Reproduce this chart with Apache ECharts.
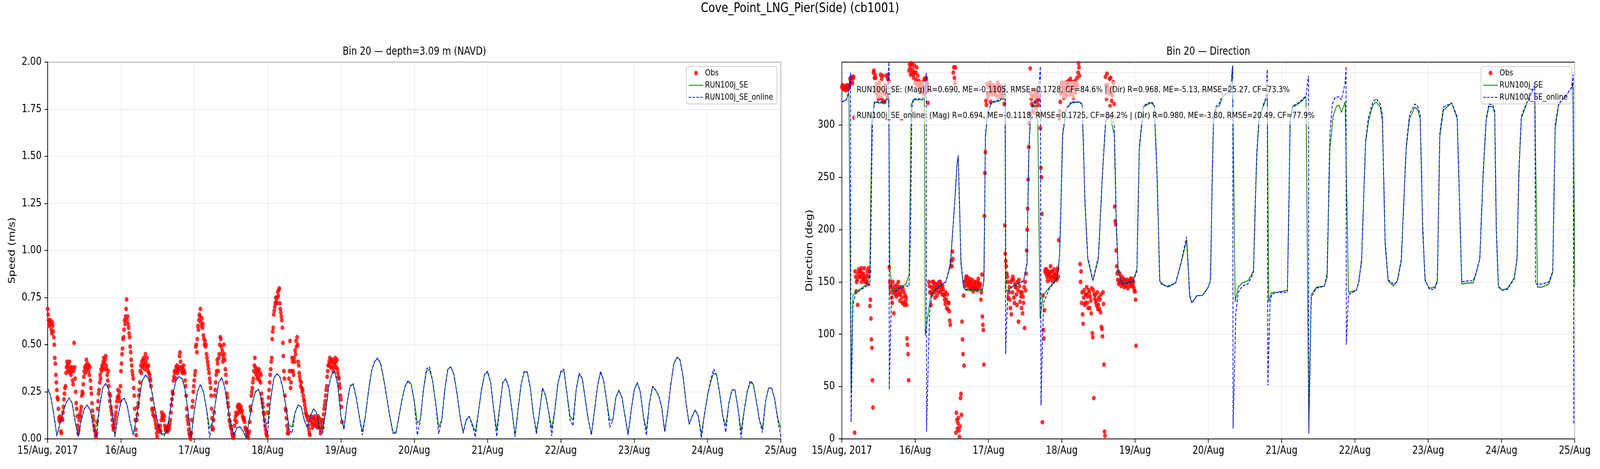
<!DOCTYPE html>
<html>
<head>
<meta charset="utf-8">
<script src="https://cdn.jsdelivr.net/npm/echarts@6.0.0/dist/echarts.min.js"></script>
<style>
  html, body { margin: 0; padding: 0; background: #fff; overflow: hidden; }
  #chart { width: 5000px; height: 1200px; transform-origin: 0 0; }
</style>
</head>
<body>
<div id="chart"></div>
<script>
// x axis: hours since 15/Aug/2017 00:00, one label per day
const dayLabels = ['15/Aug, 2017', '16/Aug', '17/Aug', '18/Aug', '19/Aug', '20/Aug',
                   '21/Aug', '22/Aug', '23/Aug', '24/Aug', '25/Aug'];
const dirTicks = [0, 50, 100, 150, 200, 250, 300, 350];

// model speed (m/s), hourly from hour 0 to 240
const speedSE = [
  0.268,0.226,0.13,0.02,0.08,0.14,0.19,0.218,0.19,0.09,0.015,0.10,
  0.16,0.18,0.15,0.07,0.065,0.17,0.27,0.295,0.26,0.15,0.015,0.12,
  0.20,0.216,0.18,0.09,0.025,0.10,0.22,0.31,0.34,0.32,0.26,0.17,
  0.09,0.03,0.025,0.04,0.14,0.24,0.31,0.33,0.32,0.26,0.14,0.015,
  0.15,0.25,0.288,0.25,0.16,0.055,0.09,0.20,0.30,0.326,0.27,0.17,
  0.07,0.026,0.06,0.064,0.04,0.005,0.10,0.19,0.25,0.264,0.21,0.09,
  0.08,0.21,0.32,0.346,0.33,0.27,0.17,0.07,0.065,0.14,0.18,0.17,
  0.10,0.06,0.12,0.16,0.14,0.06,0.057,0.14,0.28,0.345,0.355,0.28,
  0.12,0.055,0.19,0.28,0.29,0.22,0.12,0.04,0.12,0.25,0.36,0.41,
  0.427,0.40,0.318,0.22,0.12,0.04,0.03,0.12,0.21,0.28,0.306,0.29,
  0.20,0.085,0.10,0.26,0.36,0.368,0.31,0.19,0.063,0.10,0.26,0.37,
  0.383,0.34,0.24,0.12,0.034,0.10,0.12,0.08,0.04,0.14,0.26,0.34,
  0.354,0.30,0.16,0.048,0.17,0.30,0.318,0.27,0.15,0.02,0.16,0.29,
  0.355,0.355,0.27,0.13,0.04,0.14,0.27,0.23,0.143,0.055,0.15,0.29,
  0.355,0.362,0.24,0.12,0.10,0.26,0.344,0.32,0.21,0.10,0.026,0.15,
  0.28,0.354,0.31,0.20,0.10,0.10,0.22,0.256,0.22,0.12,0.026,0.15,
  0.26,0.296,0.25,0.12,0.048,0.19,0.278,0.26,0.23,0.17,0.04,0.15,
  0.29,0.40,0.434,0.42,0.33,0.19,0.077,0.12,0.154,0.12,0.026,0.13,
  0.23,0.30,0.35,0.34,0.24,0.12,0.07,0.19,0.26,0.26,0.16,0.04,
  0.15,0.25,0.30,0.29,0.20,0.10,0.055,0.20,0.27,0.27,0.21,0.11,
  0.055
];
const speedOnline = [
  0.268,0.226,0.13,0.015,0.08,0.14,0.19,0.218,0.19,0.09,0.01,0.10,
  0.16,0.18,0.15,0.06,0.01,0.17,0.27,0.295,0.26,0.15,0.01,0.12,
  0.20,0.216,0.18,0.09,0.02,0.10,0.22,0.31,0.34,0.32,0.26,0.17,
  0.09,0.03,0.015,0.04,0.14,0.24,0.31,0.33,0.32,0.26,0.14,0.01,
  0.15,0.25,0.29,0.25,0.16,0.005,0.09,0.20,0.30,0.326,0.27,0.17,
  0.07,0.02,0.06,0.064,0.04,0.005,0.10,0.19,0.25,0.264,0.21,0.07,
  0.03,0.21,0.32,0.346,0.33,0.27,0.17,0.05,0.03,0.14,0.18,0.17,
  0.10,0.06,0.12,0.16,0.14,0.04,0.03,0.14,0.28,0.345,0.36,0.28,
  0.12,0.05,0.19,0.28,0.295,0.22,0.12,0.02,0.12,0.25,0.36,0.41,
  0.43,0.40,0.318,0.22,0.12,0.03,0.03,0.12,0.21,0.28,0.31,0.29,
  0.20,0.02,0.10,0.26,0.37,0.383,0.31,0.19,0.026,0.10,0.26,0.37,
  0.383,0.34,0.24,0.12,0.03,0.10,0.12,0.07,0.01,0.14,0.26,0.34,
  0.36,0.30,0.16,0.012,0.17,0.30,0.32,0.27,0.15,0.01,0.16,0.29,
  0.36,0.355,0.27,0.13,0.025,0.14,0.27,0.23,0.143,0.015,0.15,0.29,
  0.36,0.37,0.24,0.10,0.07,0.26,0.35,0.32,0.21,0.10,0.02,0.15,
  0.28,0.36,0.31,0.20,0.06,0.10,0.22,0.26,0.22,0.12,0.02,0.15,
  0.26,0.30,0.25,0.12,0.02,0.19,0.28,0.26,0.23,0.17,0.035,0.15,
  0.29,0.40,0.434,0.42,0.33,0.19,0.077,0.12,0.154,0.12,0.005,0.13,
  0.23,0.31,0.37,0.34,0.24,0.12,0.036,0.19,0.26,0.26,0.16,0.005,
  0.15,0.25,0.31,0.29,0.20,0.10,0.033,0.20,0.27,0.27,0.21,0.10,
  0.01
];

// observed speed (m/s), every 10 min from hour 0 (one hour per group)
const obsSpeed = [
  0.69,0.66,0.63,0.60,0.62,0.63,  0.61,0.58,0.56,0.62,0.60,0.57,
  0.54,0.50,0.43,0.40,0.34,0.30,  0.26,0.22,0.21,0.16,0.11,0.095,
  0.12,0.10,0.04,0.03,0.11,0.10,  0.14,0.17,0.21,0.24,0.27,0.28,
  0.35,0.38,0.41,0.39,0.36,0.40,  0.37,0.41,0.35,0.38,0.34,0.36,
  0.38,0.31,0.29,0.36,0.51,0.38,  0.32,0.25,0.19,0.16,0.12,0.07,
  0.03,0.05,0.10,0.13,0.12,0.15,  0.17,0.23,0.25,0.24,0.29,0.33,
  0.36,0.38,0.35,0.39,0.42,0.37,  0.40,0.38,0.36,0.39,0.34,0.38,
  0.31,0.27,0.24,0.19,0.15,0.12,  0.10,0.07,0.05,0.04,0.02,0.01,
  0.03,0.09,0.16,0.20,0.24,0.26,  0.30,0.34,0.32,0.37,0.36,0.39,
  0.38,0.41,0.43,0.40,0.37,0.42,  0.44,0.39,0.37,0.34,0.31,0.36,
  0.28,0.24,0.20,0.23,0.17,0.15,  0.13,0.10,0.07,0.05,0.06,0.08,
  0.10,0.12,0.14,0.17,0.20,0.22,  0.26,0.23,0.22,0.25,0.20,0.28,
  0.36,0.40,0.45,0.48,0.53,0.54,  0.58,0.63,0.61,0.65,0.69,0.74,
  0.63,0.65,0.61,0.59,0.56,0.54,  0.49,0.46,0.42,0.39,0.36,0.34,
  0.32,0.27,0.23,0.16,0.10,0.05,  0.02,0.10,0.13,0.17,0.19,0.23,
  0.26,0.30,0.36,0.39,0.35,0.41,  0.38,0.42,0.39,0.43,0.40,0.37,
  0.45,0.41,0.39,0.43,0.38,0.36,  0.39,0.35,0.34,0.32,0.31,0.28,
  0.21,0.16,0.15,0.13,0.16,0.12,  0.12,0.10,0.08,0.06,0.03,0.01,
  0.05,0.07,0.06,0.04,0.05,0.07,  0.04,0.10,0.14,0.12,0.11,0.13,
  0.10,0.12,0.07,0.05,0.06,0.04,  0.06,0.05,0.04,0.07,0.05,0.06,
  0.08,0.10,0.14,0.18,0.21,0.25,  0.24,0.31,0.33,0.36,0.35,0.32,
  0.38,0.36,0.39,0.35,0.37,0.38,  0.37,0.44,0.46,0.41,0.38,0.36,
  0.38,0.35,0.37,0.39,0.36,0.35,  0.31,0.28,0.23,0.16,0.12,0.10,
  0.08,0.05,0.03,0.02,0.01,0.00,  0.03,0.10,0.17,0.20,0.25,0.28,
  0.31,0.34,0.36,0.49,0.50,0.46,  0.53,0.60,0.58,0.63,0.66,0.65,
  0.69,0.62,0.60,0.64,0.59,0.61,  0.55,0.53,0.50,0.52,0.49,0.50,
  0.45,0.43,0.41,0.39,0.37,0.35,  0.32,0.30,0.27,0.23,0.16,0.11,
  0.06,0.05,0.10,0.14,0.23,0.26,  0.30,0.34,0.36,0.42,0.40,0.36,
  0.43,0.45,0.50,0.54,0.53,0.49,  0.45,0.47,0.41,0.43,0.50,0.45,
  0.42,0.37,0.34,0.30,0.24,0.22,  0.19,0.17,0.13,0.10,0.09,0.07,
  0.06,0.05,0.03,0.02,0.01,0.005, 0.02,0.07,0.10,0.12,0.14,0.09,
  0.13,0.17,0.18,0.16,0.14,0.18,  0.15,0.16,0.17,0.14,0.15,0.12,
  0.11,0.10,0.11,0.09,0.06,0.05,  0.05,0.03,0.01,0.02,0.005,0.03,
  0.04,0.09,0.17,0.15,0.23,0.25,  0.27,0.30,0.32,0.36,0.39,0.43,
  0.38,0.35,0.34,0.37,0.32,0.36,  0.33,0.37,0.31,0.35,0.30,0.34,
  0.24,0.21,0.19,0.17,0.14,0.13,  0.10,0.07,0.05,0.03,0.02,0.015,
  0.14,0.18,0.22,0.26,0.30,0.34,  0.37,0.41,0.43,0.53,0.57,0.59,
  0.66,0.68,0.70,0.72,0.75,0.73,  0.72,0.75,0.78,0.76,0.79,0.80,
  0.72,0.69,0.67,0.65,0.63,0.59,  0.51,0.44,0.36,0.32,0.23,0.16,
  0.15,0.11,0.07,0.03,0.05,0.03,  0.32,0.36,0.52,0.27,0.30,0.36,
  0.43,0.41,0.36,0.34,0.43,0.41,  0.47,0.45,0.52,0.49,0.54,0.50,
  0.41,0.39,0.35,0.33,0.31,0.28,  0.30,0.27,0.25,0.26,0.23,0.21,
  0.20,0.18,0.16,0.14,0.13,0.12,  0.12,0.10,0.07,0.05,0.03,0.02,
  0.10,0.12,0.09,0.08,0.06,0.11,  0.11,0.08,0.12,0.10,0.07,0.09,
  0.07,0.10,0.06,0.12,0.08,0.11,  0.09,0.06,0.03,0.05,0.10,0.08,
  0.06,0.10,0.13,0.16,0.18,0.20,  0.23,0.26,0.28,0.33,0.36,0.39,
  0.39,0.41,0.43,0.40,0.38,0.42,  0.38,0.41,0.42,0.36,0.40,0.38,
  0.40,0.43,0.41,0.38,0.42,0.37,  0.35,0.33,0.32,0.29,0.27,0.23,
  0.21,0.17,0.09
];

// observed direction (deg), same 10-min times as obsSpeed
const obsDir = [
  336,338,335,337,334,336,  335,337,333,336,338,334,
  337,335,336,338,344,340,  345,346,344,340,345,346,
  307,6,160,155,141,150,    152,128,158,162,155,160,
  155,160,163,150,157,153,  158,153,163,155,150,152,
  150,156,160,148,163,155,  160,127,133,115,95,87,
  56,30,350,352,345,348,    345,335,339,330,333,327,
  325,340,330,335,348,326,  344,325,347,330,322,333,
  322,338,330,347,329,326,  344,348,342,164,150,145,
  140,146,135,130,150,143,  120,141,146,138,142,136,
  147,143,140,150,138,145,  132,138,141,145,135,130,
  143,130,140,128,137,132,  135,128,96,90,81,56,
  352,358,355,348,359,350,  358,353,348,345,357,350,
  340,350,343,355,338,347,  338,342,335,340,333,337,
  340,332,338,335,330,342,  344,336,331,345,344,338,
  340,321,333,150,146,140,  140,128,145,138,150,142,
  150,146,140,135,148,144,  142,137,148,145,140,150,
  145,150,141,147,143,138,  146,143,138,137,133,129,
  140,133,125,138,124,130,  130,122,113,109,165,170,
  165,179,172,350,355,345,  340,355,6,25,18,10,
  15,20,8,2,12,39,          43,23,112,95,81,137,
  70,150,146,152,155,148,   155,152,148,145,150,153,
  146,150,143,148,152,145,  141,145,148,150,146,143,
  144,150,142,147,153,149,  147,145,148,133,140,157,
  117,109,104,71,213,254,   274,323,319,339,330,327,
  336,330,338,340,322,333,  337,331,329,335,338,333,
  332,330,336,328,334,337,  340,334,327,332,338,330,
  331,336,329,333,326,334,  330,320,204,177,170,165,
  158,155,150,135,140,145,  133,125,150,119,152,140,
  155,152,135,130,148,145,  145,138,128,150,142,112,
  152,146,131,140,136,125,  140,120,136,130,145,106,
  150,142,158,180,200,220,  248,279,302,311,354,330,
  325,320,328,318,333,312,  328,333,322,316,330,326,
  331,325,319,324,310,328,  297,259,250,215,16,137,
  104,96,123,160,162,158,   162,155,151,158,160,156,
  158,152,165,155,160,154,  160,150,156,162,157,153,
  154,158,152,160,163,155,  190,306,313,322,330,338,
  340,335,330,336,326,333,  340,335,330,328,338,341,
  336,342,338,333,329,344,  333,338,341,330,336,326,
  339,335,342,331,337,340,  345,338,350,359,355,347,
  167,150,160,130,140,119,  110,135,142,128,130,138,
  138,145,130,136,125,142,  140,125,136,132,120,144,
  101,97,142,39,138,134,    138,130,132,127,140,124,
  128,135,124,133,121,138,  107,105,98,140,129,71,
  7,3,346,338,325,349,      338,335,332,330,344,318,
  345,330,323,335,328,341,  340,320,222,208,205,180,
  165,158,152,160,148,150,  158,152,150,146,155,149,
  148,153,150,145,152,147,  146,149,152,150,144,151,
  150,147,151,153,146,149,  153,149,146,150,144,141,
  141,133,89
];

// model direction, RUN100j_SE: hours and degrees
const dirSeT = [
  0,1.5,2.3,3.0,3.6,4.5,6.5,8.5,9.1,9.8,10.6,12,14.1,14.8,15.3,15.7,16.5,19,21,22,
  22.7,23.3,26.4,27,27.3,29,31,34,35.5,36.8,37.7,38.1,39.0,39.8,40.5,46,46.5,47,47.7,49,
  51.7,53,53.4,53.7,56,59.5,60.6,61.2,61.7,62.6,63.4,64.1,64.9,65.9,68,70.5,71.3,72.3,73.5,75.2,
  77.8,78.7,79.6,80.5,82.2,84,85.3,86.4,87.9,89.2,89.9,90.5,91.8,95.3,96.6,97.4,98.8,99.7,101.4,102.3,
  103.2,104.1,105,106.8,109.3,111,112.5,112.9,113.9,114.6,116.3,118,119.8,120.7,121.3,121.7,122.4,123.7,124.6,125,
  126.3,127.5,127.9,128.8,129.8,131.1,132.9,134.2,134.8,135.4,135.9,136.6,137.6,138.9,139.3,139.8,140.7,142.4,145.9,146.4,
  146.8,147.6,148.9,150.7,152,152.9,153.7,155.4,158,158.9,159.8,160.9,162,162.8,163.6,164.8,165.9,168.5,169.3,170.2,
  171.5,172.5,173.9,175,176.3,177,177.9,178.9,180.6,181.9,183.2,184.8,185.9,187.6,188.5,189.4,190.2,191,192.4,194.1,
  195,195.8,197,199.7,201.5,202.4,203,205,206.7,207.6,208.9,210,211,211.9,213.2,213.8,214.3,215,216.3,218,
  220.2,221.1,221.7,222.5,224.1,225.8,226.9,227.8,229.3,231.5,232.8,233.6,234.7,237.1,239,239.4,240
];
const dirSeVal = [
  322,324,331,45,137,141,144,149,157,304,322,321,321,326,330,162,142,145,148,157,
  319,324,324,327,99,136,145,150,165,220,262,271,167,145,142,142,151,288,311,321,
  323,328,336,141,146,151,167,272,304,318,319,317,115,137,145,154,175,290,315,321,
  322,319,225,172,151,172,251,304,308,290,199,159,149,151,162,277,317,319,321,318,
  251,151,148,145,149,167,185,190,136,130,137,137,144,151,251,304,315,319,326,328,
  331,340,356,131,145,149,151,157,161,225,272,304,314,325,327,131,140,140,142,225,
  304,317,319,323,327,10,138,145,146,154,277,309,318,319,312,322,140,142,151,172,
  283,304,319,322,317,304,186,151,146,151,172,277,306,317,315,306,199,151,144,145,
  151,288,314,321,306,212,148,149,149,157,172,251,304,318,317,311,199,145,142,144,
  154,172,251,306,319,330,335,145,145,148,159,296,319,327,335,340,145
];

// model direction, RUN100j_SE_online: hours and degrees
const dirOnT = [
  0,1.5,2.3,2.8,3.0,3.6,4.5,6.5,8.5,9.2,9.5,10,10.8,12,14.1,14.8,15.4,15.5,16.2,17,
  19,21,22,22.5,22.9,23.5,26.4,27.2,27.6,27.7,28.7,29.5,31,34,35.5,36.8,37.7,38.1,39.0,39.8,
  40.5,46,46.5,47,47.7,49,51.7,53,53.5,53.6,54.3,56,59.5,60.6,61.2,61.7,62.6,63.4,64.1,65.0,
  65.2,66,68,70.5,71.3,72.3,73.5,75.2,77.8,78.7,79.6,80.5,82.2,84,85.3,86.4,87.9,89.2,89.9,90.5,
  91.8,95.3,96.6,97.4,98.8,99.7,101.4,102.3,103.2,104.1,105,106.8,109.3,111,112.5,112.9,113.9,114.6,116.3,118,
  119.8,120.7,121.3,121.7,122.4,123.7,124.6,125,126.3,127.5,128.0,128.1,129.0,129.8,131.1,132.9,134.2,134.8,135.4,135.9,
  136.6,137.6,138.9,139.3,139.5,140.2,140.7,142.4,145.9,146.4,146.8,147.6,148.9,150.7,152.0,152.8,152.9,153.7,155.4,158,
  158.9,159.8,160.6,161.5,162.8,163.6,164.8,165.1,165.2,165.9,168.5,169.3,170.2,171.5,172.5,173.9,175,176.3,177,177.9,
  178.9,180.6,181.9,183.2,184.8,185.9,187.6,188.5,189.4,190.2,191,192.4,194.1,195,195.8,197,199.7,201.5,202.4,203,
  205,206.7,207.6,208.9,210,211,211.9,213.2,213.8,214.3,215,216.3,218,220.2,221.1,221.7,222.5,224.1,225.8,226.9,
  227.2,227.8,229.3,231.5,232.8,233.6,234.7,237.1,239,239.5,239.7,240
];
const dirOnVal = [
  322,324,333,350,16,128,139,143,147,147,200,304,322,322,322,326,360,47,135,140,
  144,146,146,200,316,325,325,328,350,7,120,138,144,150,167,220,262,270,170,146,
  143,143,152,290,312,322,324,330,340,81,140,146,151,168,275,306,320,322,321,356,
  32,130,144,153,176,292,316,322,322,320,228,174,152,174,253,306,310,300,205,160,
  148,150,160,280,318,320,322,319,255,150,147,146,149,168,188,193,138,130,137,137,
  144,151,255,308,317,321,330,332,334,340,357,10,120,140,146,148,155,160,230,275,
  306,316,326,353,51,130,138,140,140,230,306,318,320,324,328,347,5,135,144,146,
  158,290,320,326,327,324,340,356,90,138,142,150,170,285,308,322,325,320,310,190,
  152,148,150,170,280,310,320,318,310,205,152,143,143,150,292,317,321,308,215,150,
  151,151,158,172,255,306,320,319,313,205,146,142,143,153,172,255,308,320,331,338,
  148,148,148,150,160,300,320,328,336,348,15,15
];

const statSE = 'RUN100j_SE: (Mag) R=0.690, ME=-0.1105, RMSE=0.1728, CF=84.6% | (Dir) R=0.968, ME=-5.13, RMSE=25.27, CF=73.3%';
const statOnline = 'RUN100j_SE_online: (Mag) R=0.694, ME=-0.1118, RMSE=0.1725, CF=84.2% | (Dir) R=0.980, ME=-3.80, RMSE=20.49, CF=77.9%';

const FONT = '"DejaVu Sans", "Liberation Sans", sans-serif';
const RED = '#ff0000', GREEN = '#008000', BLUE = '#0000ff';

// the figure is laid out at 5000x1200; squeeze it into the real window if that is smaller
const box = document.getElementById('chart');
const sx = Math.min(1, window.innerWidth / 5000);
const sy = Math.min(1, window.innerHeight / 1200);
if (sx < 1 || sy < 1) box.style.transform = 'scale(' + sx + ',' + sy + ')';

const chart = echarts.init(box, null, { renderer: 'canvas', devicePixelRatio: 1 });

function xAxisFor(gridIndex) {
  return {
    type: 'value', gridIndex: gridIndex, min: 0, max: 240, interval: 24,
    axisLine: { show: true, onZero: false, lineStyle: { color: '#000', width: 2 } },
    axisTick: { show: true, length: 10, lineStyle: { color: '#000', width: 2 } },
    axisLabel: { color: '#000', fontSize: 28, fontFamily: FONT, margin: 17,
                 formatter: v => dayLabels[Math.round(v / 24)] || '' },
    splitLine: { show: true, lineStyle: { color: '#e6e6e6', width: 1.5 } }
  };
}

function yAxisFor(gridIndex, opts) {
  return Object.assign({
    type: 'value', gridIndex: gridIndex,
    nameLocation: 'middle', nameRotate: 90,
    nameTextStyle: { color: '#000', fontSize: 28, fontFamily: FONT },
    axisLine: { show: true, lineStyle: { color: '#000', width: 2 } },
    axisTick: { show: true, length: 10, lineStyle: { color: '#000', width: 2 } },
    splitLine: { show: true, lineStyle: { color: '#e6e6e6', width: 1.5 } }
  }, opts);
}

const legendBase = {
  orient: 'vertical', top: 170,
  data: [
    { name: 'Obs', icon: 'circle' },
    { name: 'RUN100j_SE', itemStyle: { opacity: 0 } },
    { name: 'RUN100j_SE_online', itemStyle: { opacity: 0 } }
  ],
  itemWidth: 46, itemHeight: 12, itemGap: 9,
  padding: [6, 12, 6, 6],
  backgroundColor: 'rgba(255,255,255,0.8)',
  borderColor: '#cccccc', borderWidth: 2, borderRadius: 6,
  textStyle: { color: '#000', fontSize: 22, fontFamily: FONT, lineHeight: 22 }
};

const option = {
  animation: false,
  backgroundColor: '#fff',
  grid: [
    { left: 149, top: 159, width: 2291, height: 964, show: true, borderColor: '#000', borderWidth: 2 },
    { left: 2631, top: 159, width: 2290, height: 964, show: true, borderColor: '#000', borderWidth: 2 }
  ],
  xAxis: [xAxisFor(0), xAxisFor(1)],
  yAxis: [
    yAxisFor(0, {
      min: 0, max: 2, interval: 0.25, name: 'Speed (m/s)', nameGap: 96,
      axisLabel: { color: '#000', fontSize: 28, fontFamily: FONT, margin: 19,
                   formatter: v => v.toFixed(2) }
    }),
    yAxisFor(1, {
      min: 0, max: 360, interval: 50, name: 'Direction (deg)', nameGap: 86,
      axisTick: { show: true, length: 10, customValues: dirTicks, lineStyle: { color: '#000', width: 2 } },
      axisLabel: { color: '#000', fontSize: 28, fontFamily: FONT, margin: 22,
                   customValues: dirTicks, showMaxLabel: false }
    })
  ],
  legend: [
    Object.assign({}, legendBase, { right: 5000 - 2428 }),
    Object.assign({}, legendBase, { right: 5000 - 4911 })
  ],
  graphic: [
    { type: 'text', x: 2500, y: 22, z: 100,
      style: { text: 'Cove_Point_LNG_Pier(Side) (cb1001)', fill: '#000', fontSize: 34, fontFamily: FONT,
               align: 'center', verticalAlign: 'middle', textAlign: 'center', textVerticalAlign: 'middle' } },
    { type: 'text', x: 1295, y: 133, z: 100,
      style: { text: 'Bin 20 \u2014 depth=3.09 m (NAVD)', fill: '#000', fontSize: 28, fontFamily: FONT,
               align: 'center', verticalAlign: 'middle', textAlign: 'center', textVerticalAlign: 'middle' } },
    { type: 'text', x: 3776, y: 133, z: 100,
      style: { text: 'Bin 20 \u2014 Direction', fill: '#000', fontSize: 28, fontFamily: FONT,
               align: 'center', verticalAlign: 'middle', textAlign: 'center', textVerticalAlign: 'middle' } },
    { type: 'text', x: 2669, y: 230, z: 100,
      style: { text: statSE, fill: '#000', fontSize: 22, fontFamily: FONT,
               backgroundColor: 'rgba(255,255,255,0.62)', padding: [11, 8, 11, 8],
               align: 'left', verticalAlign: 'middle', textAlign: 'left', textVerticalAlign: 'middle' } },
    { type: 'text', x: 2669, y: 296, z: 100,
      style: { text: statOnline, fill: '#000', fontSize: 22, fontFamily: FONT,
               backgroundColor: 'rgba(255,255,255,0.62)', padding: [11, 8, 11, 8],
               align: 'left', verticalAlign: 'middle', textAlign: 'left', textVerticalAlign: 'middle' } }
  ],
  series: [
    { name: 'Obs', type: 'scatter', xAxisIndex: 0, yAxisIndex: 0, z: 2,
      symbol: 'circle', symbolSize: 12, itemStyle: { color: RED },
      data: obsSpeed.map((v, i) => [i / 6, v]) },
    { name: 'RUN100j_SE', type: 'line', xAxisIndex: 0, yAxisIndex: 0, z: 3,
      symbol: 'none', lineStyle: { color: GREEN, width: 2.4 }, itemStyle: { color: GREEN },
      data: speedSE.map((v, i) => [i, v]) },
    { name: 'RUN100j_SE_online', type: 'line', xAxisIndex: 0, yAxisIndex: 0, z: 4,
      symbol: 'none', lineStyle: { color: BLUE, width: 2.4, type: [8, 4] }, itemStyle: { color: BLUE },
      data: speedOnline.map((v, i) => [i, v]) },
    { name: 'Obs', type: 'scatter', xAxisIndex: 1, yAxisIndex: 1, z: 2,
      symbol: 'circle', symbolSize: 12, itemStyle: { color: RED },
      data: obsDir.map((v, i) => [i / 6, v]) },
    { name: 'RUN100j_SE', type: 'line', xAxisIndex: 1, yAxisIndex: 1, z: 3,
      symbol: 'none', lineStyle: { color: GREEN, width: 2.4 }, itemStyle: { color: GREEN },
      data: dirSeT.map((t, i) => [t, dirSeVal[i]]) },
    { name: 'RUN100j_SE_online', type: 'line', xAxisIndex: 1, yAxisIndex: 1, z: 4,
      symbol: 'none', lineStyle: { color: BLUE, width: 2.4, type: [8, 4] }, itemStyle: { color: BLUE },
      data: dirOnT.map((t, i) => [t, dirOnVal[i]]) }
  ]
};

chart.setOption(option);
</script>
</body>
</html>
